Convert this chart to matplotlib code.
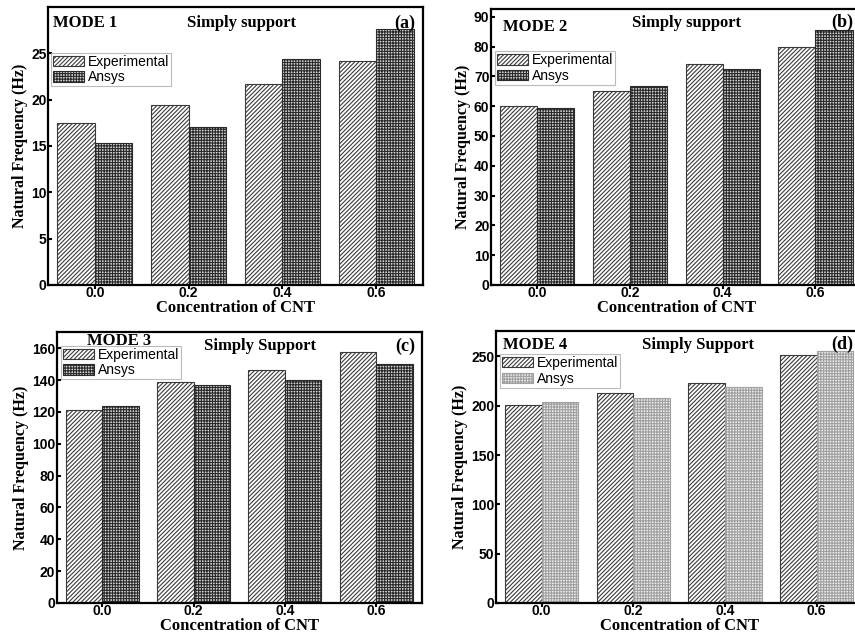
import numpy as np
import matplotlib
matplotlib.use('Agg')
import matplotlib.pyplot as plt

# concentration of CNT on the x axis
conc = [0.0, 0.2, 0.4, 0.6]
conc_labels = ['0.0', '0.2', '0.4', '0.6']

# natural frequencies (Hz)
mode1_exp = [17.5, 19.4, 21.7, 24.2]
mode1_ansys = [15.3, 17.0, 24.4, 27.6]
mode2_exp = [60.2, 65.2, 74.3, 80.0]
mode2_ansys = [59.5, 66.8, 72.3, 85.6]
mode3_exp = [121.3, 139.0, 146.5, 157.5]
mode3_ansys = [123.5, 137.2, 140.3, 149.8]
mode4_exp = [201, 212.5, 223, 251]
mode4_ansys = [204, 208, 219, 255]

mode_names = ['MODE 1', 'MODE 2', 'MODE 3', 'MODE 4']
support_names = ['Simply support', 'Simply support', 'Simply Support', 'Simply Support']
panel_tags = ['(a)', '(b)', '(c)', '(d)']
yticks_list = [[0, 5, 10, 15, 20, 25],
               [0, 10, 20, 30, 40, 50, 60, 70, 80, 90],
               [0, 20, 40, 60, 80, 100, 120, 140, 160],
               [0, 50, 100, 150, 200, 250]]
ylims = [30, 92.5, 170, 276]

plt.rcParams['hatch.linewidth'] = 0.8

SERIF = 'Liberation Serif'
SANS = 'Liberation Sans'

fig = plt.figure(figsize=(8.55, 6.35), dpi=100)

# axes rectangles in figure fractions (right panels run past the edge)
rects = [[0.0561, 0.5512, 0.4386, 0.4378],
         [0.5740, 0.5512, 0.4340, 0.4342],
         [0.0663, 0.0504, 0.4269, 0.4263],
         [0.5798, 0.0504, 0.4290, 0.4288]]
text_pos = [(0.013, 0.942, 0.517, 0.942, 0.979, 0.942),
            (0.033, 0.936, 0.528, 0.951, 0.976, 0.951),
            (0.083, 0.967, 0.557, 0.948, 0.982, 0.948),
            (0.020, 0.949, 0.552, 0.949, 0.976, 0.949)]
legend_pos = [(0.008, 0.835), (0.012, 0.848), (0.012, 0.950), (0.012, 0.914)]

data = [(mode1_exp, mode1_ansys), (mode2_exp, mode2_ansys),
        (mode3_exp, mode3_ansys), (mode4_exp, mode4_ansys)]

w = 0.08
x = np.array(conc)
for i, (exp, ans) in enumerate(data):
    ax = fig.add_axes(rects[i])
    ax.bar(x - w / 2, exp, width=w, color='white', edgecolor='#3a3a3a',
           hatch='////////', linewidth=0.8, label='Experimental')
    if i < 3:
        ax.bar(x + w / 2, ans, width=w, color='#d4d4d4', edgecolor='#2a2a2a',
               hatch='++++++', linewidth=0.8, label='Ansys')
    else:
        ax.bar(x + w / 2, ans, width=w, color='#ededed', edgecolor='#a0a0a0',
               hatch='++++++', linewidth=0.8, label='Ansys')

    ax.set_xlim(-0.1, 0.7)
    ax.set_ylim(0, ylims[i])
    ax.set_xticks(conc)
    ax.set_xticklabels(conc_labels)
    ax.set_yticks(yticks_list[i])
    for sp in ax.spines.values():
        sp.set_linewidth(1.6)
    ax.tick_params(axis='x', direction='out', length=3, width=1.5, pad=-2)
    ax.tick_params(axis='y', direction='in', length=3, width=1.5, pad=1)
    for lab in ax.get_xticklabels() + ax.get_yticklabels():
        lab.set_fontfamily(SANS)
        lab.set_fontweight('bold')
        lab.set_fontsize(10)

    ax.set_xlabel('Concentration of CNT', fontfamily=SERIF, fontweight='bold',
                  fontsize=12, labelpad=0)
    ax.set_ylabel('Natural Frequency (Hz)', fontfamily=SERIF, fontweight='bold',
                  fontsize=11.5, labelpad=2)

    mx, my, sx, sy, tx, ty = text_pos[i]
    ax.text(mx, my, mode_names[i], transform=ax.transAxes, ha='left', va='center',
            fontfamily=SERIF, fontweight='bold', fontsize=12)
    ax.text(sx, sy, support_names[i], transform=ax.transAxes, ha='center', va='center',
            fontfamily=SERIF, fontweight='bold', fontsize=12)
    ax.text(tx, ty, panel_tags[i], transform=ax.transAxes, ha='right', va='center',
            fontfamily=SERIF, fontweight='bold', fontsize=13)

    leg = ax.legend(loc='upper left', bbox_to_anchor=legend_pos[i],
                    prop={'family': SANS, 'size': 10}, frameon=True, fancybox=False,
                    handlelength=2.2, handleheight=0.75, labelspacing=0.1,
                    borderpad=0.15, handletextpad=0.3, borderaxespad=0)
    leg.get_frame().set_edgecolor('#aaaaaa')
    leg.get_frame().set_linewidth(0.8)

plt.savefig('out.png', dpi=100)
